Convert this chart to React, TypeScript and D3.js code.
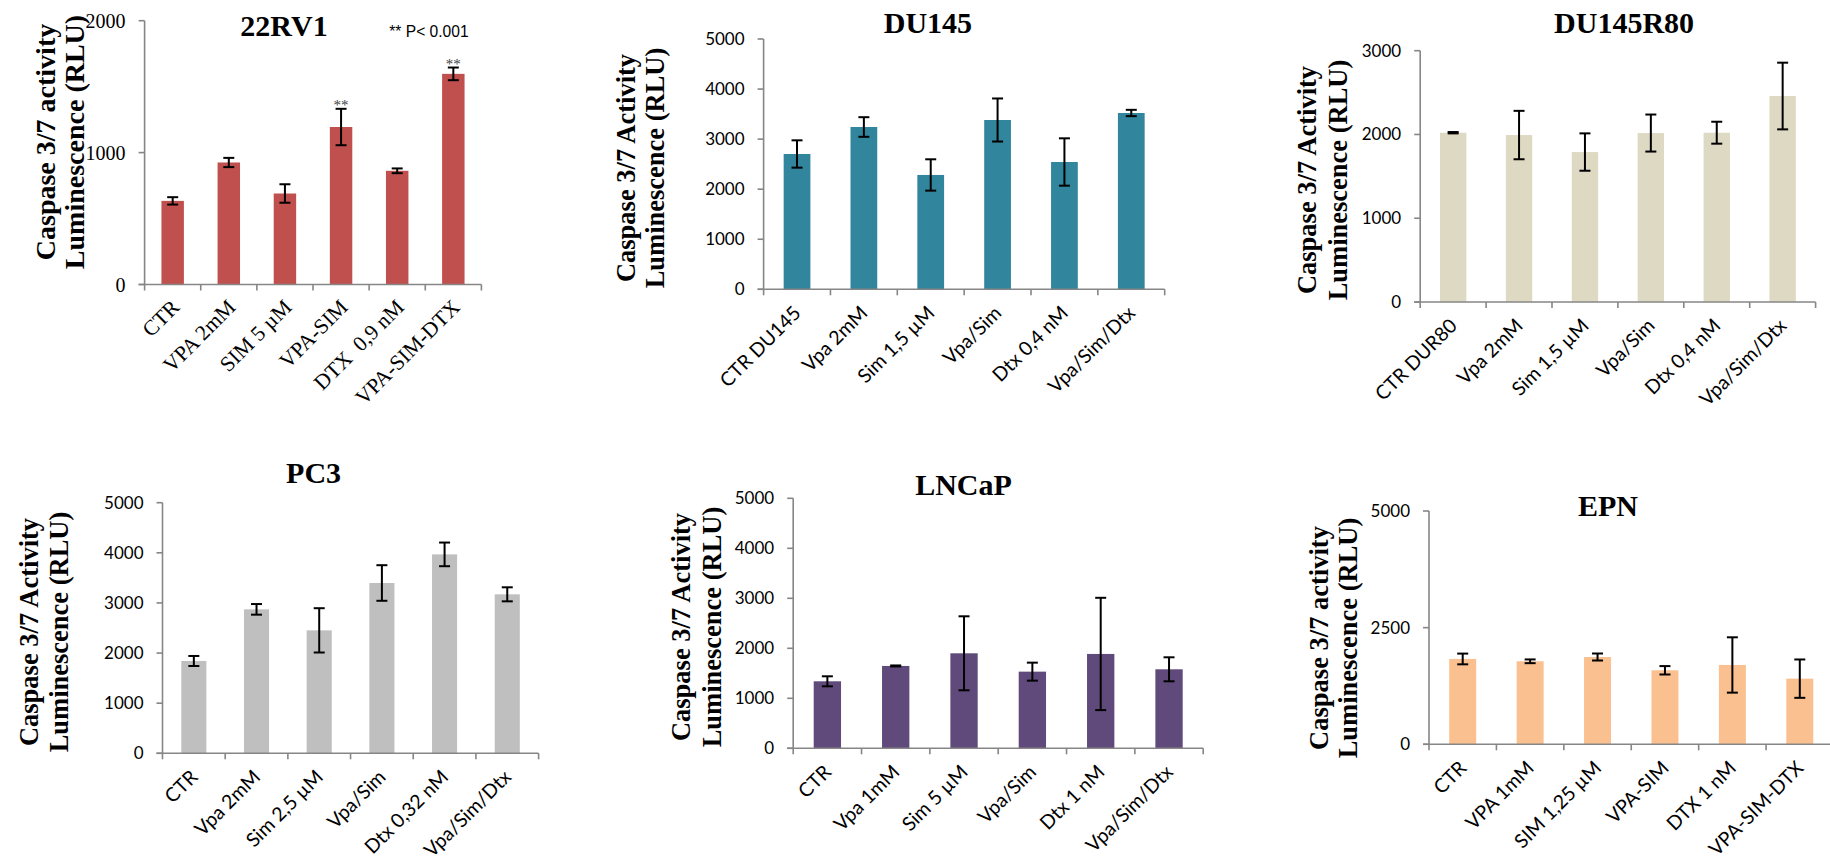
import React from "react";
import * as d3 from "d3";

// ---------- DATA ----------
const cats22RV1 = ["CTR", "VPA 2mM", "SIM 5 µM", "VPA-SIM", "DTX  0,9 nM", "VPA-SIM-DTX"];
const vals22RV1 = [634, 925, 690, 1194, 862, 1597];
const errs22RV1 = [28, 35, 70, 138, 18, 48];
const sig22RV1 = ["", "", "", "**", "", "**"];
const ticks22RV1 = [0, 1000, 2000];

const catsDU145 = ["CTR DU145", "Vpa 2mM", "Sim 1,5 µM", "Vpa/Sim", "Dtx 0,4 nM", "Vpa/Sim/Dtx"];
const valsDU145 = [2703, 3242, 2284, 3382, 2543, 3522];
const errsDU145 = [273, 196, 313, 430, 473, 63];
const ticksDU145 = [0, 1000, 2000, 3000, 4000, 5000];

const catsDUR80 = ["CTR DUR80", "Vpa 2mM", "Sim 1,5 µM", "Vpa/Sim", "Dtx 0,4 nM", "Vpa/Sim/Dtx"];
const valsDUR80 = [2021, 1993, 1790, 2017, 2021, 2459];
const errsDUR80 = [8, 289, 223, 221, 131, 398];
const ticksDUR80 = [0, 1000, 2000, 3000];

const catsPC3 = ["CTR", "Vpa 2mM", "Sim 2,5 µM", "Vpa/Sim", "Dtx 0,32 nM", "Vpa/Sim/Dtx"];
const valsPC3 = [1842, 2872, 2453, 3398, 3969, 3172];
const errsPC3 = [100, 106, 442, 355, 236, 140];
const ticksPC3 = [0, 1000, 2000, 3000, 4000, 5000];

const catsLNCaP = ["CTR", "Vpa 1mM", "Sim 5 µM", "Vpa/Sim", "Dtx 1 nM", "Vpa/Sim/Dtx"];
const valsLNCaP = [1340, 1647, 1900, 1533, 1887, 1580];
const errsLNCaP = [100, 10, 740, 180, 1123, 240];
const ticksLNCaP = [0, 1000, 2000, 3000, 4000, 5000];

const catsEPN = ["CTR", "VPA 1mM", "SIM 1,25 µM", "VPA-SIM", "DTX 1 nM", "VPA-SIM-DTX"];
const valsEPN = [1829, 1779, 1871, 1586, 1700, 1407];
const errsEPN = [115, 40, 75, 90, 593, 411];
const ticksEPN = [0, 2500, 5000];

const pNote = "** P< 0.001";

// ---------- LAYOUT ----------
const SERIF = "'Liberation Serif', 'Times New Roman', serif";
const SANS = "Lato, 'Noto Sans', sans-serif";
const AXIS = "#868686";

type PanelCfg = {
  title: string;
  cats: string[];
  vals: number[];
  errs: number[];
  sig?: string[];
  ticks: number[];
  max: number;
  color: string;
  x0: number;
  x1: number;
  yTop: number;
  yBot: number;
  titleX: number;
  titleY: number;
  yl1: string;
  yl2: string;
  ylx1: number;
  ylx2: number;
  ylcy: number;
  ylSize: number;
  serif: boolean;
};

const panels: PanelCfg[] = [
  {
    title: "22RV1", cats: cats22RV1, vals: vals22RV1, errs: errs22RV1, sig: sig22RV1, ticks: ticks22RV1, max: 2000,
    color: "#C0504D", x0: 144.6, x1: 481.4, yTop: 20.7, yBot: 284.5, titleX: 284, titleY: 35.7,
    yl1: "Caspase 3/7 activity", yl2: "Luminescence (RLU)", ylx1: 55.4, ylx2: 83.9, ylcy: 142, ylSize: 28, serif: true,
  },
  {
    title: "DU145", cats: catsDU145, vals: valsDU145, errs: errsDU145, ticks: ticksDU145, max: 5000,
    color: "#31859C", x0: 763.6, x1: 1164.7, yTop: 39, yBot: 289.3, titleX: 927.9, titleY: 33.3,
    yl1: "Caspase 3/7 Activity", yl2: "Luminescence (RLU)", ylx1: 635, ylx2: 664.3, ylcy: 168, ylSize: 26.5, serif: false,
  },
  {
    title: "DU145R80", cats: catsDUR80, vals: valsDUR80, errs: errsDUR80, ticks: ticksDUR80, max: 3000,
    color: "#DDD9C3", x0: 1420.2, x1: 1815.6, yTop: 50.7, yBot: 302, titleX: 1624.1, titleY: 33.3,
    yl1: "Caspase 3/7 Activity", yl2: "Luminescence (RLU)", ylx1: 1316.1, ylx2: 1346.7, ylcy: 180, ylSize: 26.5, serif: false,
  },
  {
    title: "PC3", cats: catsPC3, vals: valsPC3, errs: errsPC3, ticks: ticksPC3, max: 5000,
    color: "#BFBFBF", x0: 162.5, x1: 538.6, yTop: 502.7, yBot: 753.3, titleX: 313.6, titleY: 483.3,
    yl1: "Caspase 3/7 Activity", yl2: "Luminescence (RLU)", ylx1: 37.5, ylx2: 67.9, ylcy: 632, ylSize: 26.5, serif: false,
  },
  {
    title: "LNCaP", cats: catsLNCaP, vals: valsLNCaP, errs: errsLNCaP, ticks: ticksLNCaP, max: 5000,
    color: "#604A7B", x0: 793.2, x1: 1203.2, yTop: 498.3, yBot: 748.3, titleX: 963.5, titleY: 495,
    yl1: "Caspase 3/7 Activity", yl2: "Luminescence (RLU)", ylx1: 689.9, ylx2: 720.5, ylcy: 627, ylSize: 26.5, serif: false,
  },
  {
    title: "EPN", cats: catsEPN, vals: valsEPN, errs: errsEPN, ticks: ticksEPN, max: 5000,
    color: "#FAC090", x0: 1429, x1: 1833.5, yTop: 511, yBot: 744.3, titleX: 1608, titleY: 516,
    yl1: "Caspase 3/7 activity", yl2: "Luminescence (RLU)", ylx1: 1327.6, ylx2: 1357.4, ylcy: 638, ylSize: 26.5, serif: false,
  },
];

function Panel({ p }: { p: PanelCfg }) {
  const x = d3.scaleBand<string>().domain(p.cats).range([p.x0, p.x1]).paddingInner(0.6).paddingOuter(0.3);
  const y = d3.scaleLinear().domain([0, p.max]).range([p.yBot, p.yTop]);
  const step = (p.x1 - p.x0) / p.cats.length;
  const bw = x.bandwidth();
  const tickFont = p.serif ? SERIF : SANS;
  const tickSize = p.serif ? 20 : 17;
  const labSize = p.serif ? 21.5 : 19.5;
  const labDx = p.serif ? 8 : 5;
  const labDy = p.serif ? 24 : 25;
  return (
    <g>
      {/* bars */}
      {p.cats.map((c, i) => (
        <rect key={c} x={x(c)} y={y(p.vals[i])} width={bw} height={p.yBot - y(p.vals[i])} fill={p.color} />
      ))}
      {/* axes */}
      <line x1={p.x0} x2={p.x0} y1={y(p.max)} y2={p.yBot} stroke={AXIS} strokeWidth={1.6} />
      <line x1={p.x0 - 6} x2={p.x1} y1={p.yBot} y2={p.yBot} stroke={AXIS} strokeWidth={1.6} />
      {p.ticks.map((t) => (
        <g key={t}>
          <line x1={p.x0 - 6} x2={p.x0} y1={y(t)} y2={y(t)} stroke={AXIS} strokeWidth={1.6} />
          <text x={p.x0 - 19} y={y(t)} dy="0.35em" textAnchor="end" fontFamily={tickFont} fontSize={tickSize} fill="#000">
            {t}
          </text>
        </g>
      ))}
      {d3.range(p.cats.length + 1).map((i) => (
        <line key={i} x1={p.x0 + i * step} x2={p.x0 + i * step} y1={p.yBot} y2={p.yBot + 6} stroke={AXIS} strokeWidth={1.6} />
      ))}
      {/* error bars */}
      {p.cats.map((c, i) => {
        const cx = (x(c) as number) + bw / 2;
        const hi = y(p.vals[i] + p.errs[i]);
        const lo = y(p.vals[i] - p.errs[i]);
        return (
          <g key={c} stroke="#000" strokeWidth={2}>
            <line x1={cx} x2={cx} y1={hi} y2={lo} />
            <line x1={cx - 5.5} x2={cx + 5.5} y1={hi} y2={hi} />
            <line x1={cx - 5.5} x2={cx + 5.5} y1={lo} y2={lo} />
          </g>
        );
      })}
      {/* significance */}
      {p.sig &&
        p.cats.map((c, i) =>
          p.sig![i] ? (
            <text key={c} x={(x(c) as number) + bw / 2} y={y(p.vals[i] + p.errs[i]) + 1} textAnchor="middle"
              fontFamily={SERIF} fontSize={15} fill="#404040">
              {p.sig![i]}
            </text>
          ) : null
        )}
      {/* x labels */}
      {p.cats.map((c) => {
        const cx = (x(c) as number) + bw / 2;
        return (
          <text key={c} transform={`translate(${cx + labDx},${p.yBot + labDy}) rotate(-45)`} textAnchor="end"
            fontFamily={tickFont} fontSize={labSize} fill="#000" style={{ whiteSpace: "pre" }}>
            {c}
          </text>
        );
      })}
      {/* title */}
      <text x={p.titleX} y={p.titleY} textAnchor="middle" fontFamily={SERIF} fontWeight="bold" fontSize={30} fill="#000">
        {p.title}
      </text>
      {/* y title */}
      <text transform={`translate(${p.ylx1},${p.ylcy}) rotate(-90)`} textAnchor="middle" fontFamily={SERIF}
        fontWeight="bold" fontSize={p.ylSize} fill="#000">
        {p.yl1}
      </text>
      <text transform={`translate(${p.ylx2},${p.ylcy}) rotate(-90)`} textAnchor="middle" fontFamily={SERIF}
        fontWeight="bold" fontSize={p.ylSize} fill="#000">
        {p.yl2}
      </text>
    </g>
  );
}

export default function App() {
  return (
    <svg width={1830} height={866} style={{ position: "absolute", left: 0, top: 0, background: "#fff" }}>
      <rect x={0} y={0} width={1830} height={866} fill="#fff" />
      {panels.map((p) => (
        <Panel key={p.title} p={p} />
      ))}
      <text x={389.3} y={37.3} fontFamily="'Liberation Sans', Arial, sans-serif" fontSize={15.6} fill="#000">
        {pNote}
      </text>
    </svg>
  );
}
